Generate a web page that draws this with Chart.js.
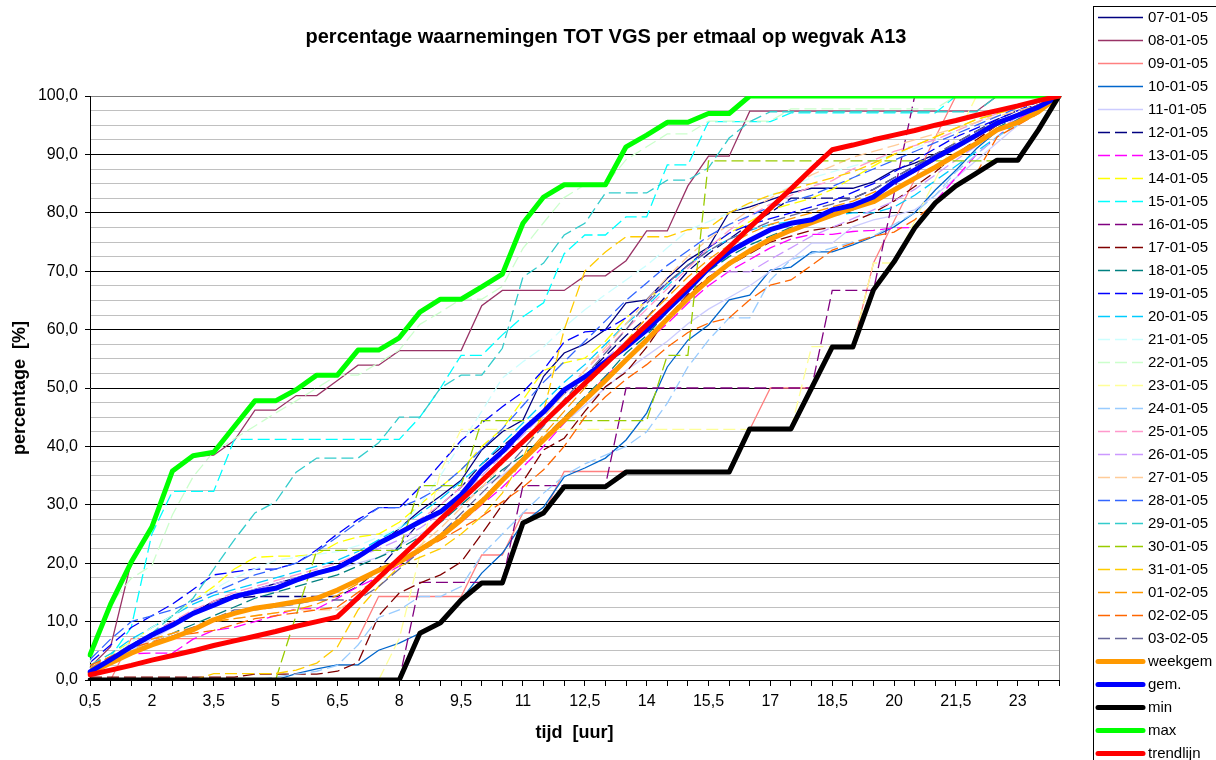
<!DOCTYPE html>
<html>
<head>
<meta charset="utf-8">
<script src="https://cdn.jsdelivr.net/npm/chart.js@4"></script>
<style>
  html, body { margin: 0; padding: 0; background: #fff; }
  #wrap { width: 1216px; height: 760px; position: relative; }
</style>
</head>
<body>
<div id="wrap"><canvas id="chart"></canvas></div>
<script>
const hours = ['0,5','1','1,5','2','2,5','3','3,5','4','4,5','5','5,5','6','6,5','7','7,5','8','8,5','9','9,5','10','10,5','11','11,5','12','12,5','13','13,5','14','14,5','15','15,5','16','16,5','17','17,5','18','18,5','19','19,5','20','20,5','21','21,5','22','22,5','23','23,5','24'];

// daily series (percentages)
const d0701 = [1.5,3.5,5.5,7.5,9.5,11.5,13.5,14.5,15.5,16.5,17.5,18.5,19.5,21.5,23,26,29,31.5,34.2,39.4,42.5,44.5,52,56,57.5,60,64.6,65.1,68.8,71.9,74.1,80.1,81,82.2,83.4,84.2,84.2,84.2,85.3,87.3,88.5,90,91.5,93,95,96.5,98,100];
const d0801 = [2.2,5.7,20.2,26,35.5,38.3,38.5,41,46.2,46.2,48.7,48.7,51.3,53.9,53.9,56.4,56.4,56.4,56.4,64.1,66.7,66.7,66.7,66.7,69.2,69.2,71.8,76.9,76.9,84.6,89.7,89.7,97.4,97.4,97.4,97.4,97.4,97.4,97.4,97.4,97.4,97.4,97.4,97.4,100,100,100,100];
const d0901 = [0,0,7.1,7.1,7.1,7.1,7.1,7.1,7.1,7.1,7.1,7.1,7.1,7.1,14.3,14.3,14.3,14.3,14.3,21.4,21.4,28.6,28.6,35.7,35.7,35.7,35.7,35.7,35.7,35.7,35.7,35.7,42.9,50,50,50,57.1,57.1,71.4,78.6,85.7,92.9,100,100,100,100,100,100];
const d1001 = [0,0,0,0,0,0,0,0,0,0,1.1,1.9,2.6,2.6,5.1,6.3,8,9.8,13.7,18.3,21.7,26.9,29.6,34.8,36.3,38,41.1,45.7,53.6,58.2,60.8,65.1,65.9,70.2,70.7,73.3,73.3,74.5,75.9,77.6,80,83.9,87.3,91,94,96,98,100];
const d1101 = [1,3,5,7,9,11,13,14.5,15.5,16,17,18,19,20,21,23,25,27,30,33,35,38,41,44,47,50,53,55.5,58,61,63.5,65.5,67.5,70,72,74.8,74.8,77.6,78.8,79.5,80.5,83,86,89,92,95,97.5,100];
const d1201 = [2,4,6,8,10,11.5,13,14,14.3,14.3,14.3,14.3,14.3,16,19,23,27,30,33,37,40,43,46,49,52,55.5,59,62,66,70,73,75.5,78,80,82.5,82.5,82.5,82.5,84,86,88,90,92,94,96,97.5,98.5,100];
const d1301 = [2,3.5,4.5,4.6,4.6,7,8.5,9,10,11,12.2,12.2,14,16,17.6,19.5,22,24.5,27,30,33,36.5,40,44,48,52,55,58,61,64.5,67.5,70,72,74,75.5,76.3,76.3,76.8,77,77.4,77.5,82,86,90,93,96,98,100];
const d1401 = [2.5,4.5,6.5,9,11,13.5,16,19,21,21.2,21.2,21.5,23.5,24.5,25,27,30,33,36,40,43,48,53,54.3,55.1,58,62,65,68,71,74,76.5,78.5,80.5,81.5,82.5,84,86,88,90,91.5,93,94.5,96,97,98,99,100];
const d1501 = [2,4,9,25,32.3,32.3,32.3,41.2,41.2,41.2,41.2,41.2,41.2,41.2,41.2,41.2,45,50,55.6,55.6,59.1,62.2,64.6,73,76.2,76.2,79.3,79.3,88.2,88.2,95.6,95.6,95.6,95.6,97.1,97.1,97.1,97.1,97.1,97.1,97.1,97.1,100,100,100,100,100,100];
const d1601 = [0,0,0,0,0,0,0,0,0,0,0,0,0,0,0,0,16.7,16.7,16.7,16.7,16.7,33.3,33.3,33.3,33.3,33.3,50,50,50,50,50,50,50,50,50,50,66.7,66.7,66.7,83.3,100,100,100,100,100,100,100,100];
const d1701 = [0.5,0.5,0.5,0.5,0.5,0.5,0.5,0.5,1,1,1,1,1.5,3,11,14.9,16.6,18,20.2,25,30,34,39.4,41.4,46,50.2,52.7,57,62,66,69,71,73,75,76,77,77.5,78.5,80,82,84.5,87,90,92.5,95,97,98.5,100];
const d1801 = [2,3.5,5,6.5,8,9.5,11,12.5,14,15,16,17,18,19.5,21,22.5,24.5,27,30,33,36,38.5,41.5,45,48.5,52,56,59,63,67,70,72.5,74.5,76,77.5,78.5,79.5,80.5,82,84,86,88,90,92,94.5,96.5,98.5,100];
const d1901 = [3,6,9,11,13,15.5,18,18.5,19,19,20,22.3,25,27.5,29.5,29.5,33,37,41,44,46.8,49.3,53.1,57.9,59.6,59.9,62,65,68,71,74,76.5,78,79,80,81,82,83.5,85,87,89,91,93,94.5,96,97.5,99,100];
const d2001 = [2.5,4.5,7,9,11,13,14.5,15.5,16.5,17.5,18.5,19.5,20.5,22,24,26,28.5,31,34,37,40.5,44,47.5,51,54,57.5,61,64,67.5,71,73.5,75.5,77,78,78.5,79,79.5,80,80,81,83,85.5,88,90.5,93,95.5,98,100];
const d2101 = [2,4,6.5,9,11,13.5,15.5,17.5,19,20.5,21,21.5,22,23,24.5,26,30,35,40.5,46,51.7,54.5,57,60.4,63.4,66,68.5,71,74,77,78.5,80,81.5,83,84.5,86,87,88,89,90,91,92.5,94,95.5,97,98,99,100];
const d2201 = [3,13,17.4,19.6,28.3,34.8,39.1,41.3,43.5,45.7,47.8,50,52.2,52.2,54.3,56.5,60.9,63,65.2,65.2,67.4,73.9,78.3,82.6,84.8,84.8,89.1,91.3,93.5,93.5,95.7,95.7,95.7,95.7,97.8,97.8,97.8,97.8,97.8,97.8,97.8,97.8,100,100,100,100,100,100];
const d2301 = [0,0,0,0,0,0,0,0,0,0,0,0,0,0,0,7.1,21.4,35.7,42.9,42.9,42.9,42.9,42.9,42.9,42.9,42.9,42.9,42.9,42.9,42.9,42.9,42.9,42.9,42.9,42.9,57.1,57.1,57.1,71.4,71.4,78.6,85.7,92.9,100,100,100,100,100];
const d2401 = [0,0,0,0,0,0,0,0,0,0.5,1,1.5,2.5,6,10.7,12,14.3,14.3,16,21.4,25,28.6,32,35,37,38.5,40,42.5,47.4,53.6,58.2,62,62,68.5,72,73,74,75,76,78,80,83,87,90,93,95,97.5,100];
const d2501 = [2,4,6,8,10,12,13.5,15,16,17,18,19,20,21.5,23,25,27.5,30,33,36,39,42.5,46,49.5,53,56.5,60,63.5,67,70.5,74,77,79.5,81.5,83,84.5,85.5,87.5,89,90.5,91.5,92.5,94,95.5,97,98,99,100];
const d2601 = [1.5,3.5,5.5,7.5,9.5,11.5,13,14.5,15.5,16.5,17.5,18.5,19.5,21,22.5,24,26,28.5,31.5,35,38.5,42,45.5,49,52,55,58,61,64,67,69.9,69.9,69.9,72,74,76,77.5,79,80.5,82,84,86.5,89,91.5,94,96.5,98.5,100];
const d2701 = [2,3.5,5,6.5,8,9,10,10.5,11,11.5,12,12,12,14,17,20,23,26,29.5,33,37,41,45,49,53,57,61,65,69,72.5,75.5,78,80.5,82.5,84.5,86.5,88,89.5,90.5,91.5,92.5,93.5,94.5,95.5,96.5,97.5,98.5,100];
const d2801 = [3.5,7,10,11,12,13.5,15,16.5,18,19,20,22,24.5,27,29.5,29.5,31,33,36,39.5,43,47,51,54.5,58,61.5,65,68,71,73.5,76,78,79.5,81,82,83,84.5,86,87.5,89,90.5,92,93.5,95,96.5,98,99,100];
const d2901 = [2,3.5,6,8,11,14,19,24,28.6,30.5,35.6,38,38,38,40.6,45,45,50,52.2,52.2,56.8,69,71.4,76.2,78.2,83.4,83.4,83.4,85.6,85.6,87.7,92.8,95.6,97.3,97.3,97.3,97.3,97.3,97.3,97.3,97.3,97.3,97.3,97.3,100,100,100,100];
const d3001 = [0,0,0,0,0,0,0,0,0,0,11.1,22.2,22.2,22.2,22.2,22.2,33.3,33.3,33.3,44.4,44.4,44.4,44.4,44.4,44.4,44.4,44.4,44.4,55.6,55.6,88.9,88.9,88.9,88.9,88.9,88.9,88.9,88.9,88.9,88.9,88.9,88.9,88.9,88.9,88.9,88.9,94.4,100];
const d3101 = [0,0,0,0,0,0,1.1,1.1,1.1,1.1,1.7,2.9,5.7,12,16,19.4,21,22.5,25,28,32,38,46,60,70,73.3,75.9,75.9,75.9,77.1,77.4,80,81.7,83,84,85,86,87,88.5,90,91.5,93,94.5,96,97,98,99,100];
const d0102 = [2,4,6,7,8,9,10,10.5,11,11.5,12,13,14.5,16.5,18.5,20.5,22.5,25,28,31,34.5,38,42,46,50,54,58,62,65.5,69,72,74.5,76.5,78,79,80,81,82,83.5,85,87,89,91,93,95,97,98.5,100];
const d0202 = [2.5,4,5.5,6.5,7.5,8,8.5,9.5,10.5,11,11.5,12,12.5,15,17.5,20,22,24,26,28,30.5,33,36,40,45,48.5,51.5,54,57,59.5,61.1,62,65.1,67.6,68.5,71,73.6,74.8,76,76.7,78.8,81.7,84.6,86.8,93,95,97,100];
const d0302 = [1.5,3,4.5,6,7.5,9,10.5,12,12,12.5,13,13.7,13.7,13.7,16,19,22,25,28.5,32,35.5,39.5,43.5,48,52,56,60,64.5,68,71,73.5,75.5,77,78.5,79.5,80.5,81.5,82.5,84,86,88,90,92,94,95.5,97,98.5,100];

// summary series
const weekgem = [1.2,2.9,4.6,6,7.2,8.6,10.3,11.4,12.3,12.8,13.4,14,15.4,17.1,18.8,20.2,22.3,24.5,27.4,30.5,34.2,37.7,41.1,44.5,47.9,51.3,54.8,58.2,61.8,65.3,68.5,71.3,73.5,75.5,77,78.3,79.6,80.8,81.9,83.9,85.9,87.8,89.9,91.9,94.2,95.5,97.3,100];
const gem = [1.4,3.5,5.7,7.7,9.4,11.4,12.8,14.3,15.1,15.7,17.1,18.3,19.2,21.1,23.4,25.2,27.1,28.8,31.7,36,39.1,42.8,45.9,49.7,51.9,54.5,57,59.9,63.4,66.8,70.5,73.3,75.3,77.1,78.2,78.8,80.5,81.3,82.7,85.3,87.3,89.4,91.3,93.3,95.4,96.7,98.1,100];
const minVals = [0,0,0,0,0,0,0,0,0,0,0,0,0,0,0,0,8,9.8,13.7,16.6,16.6,26.9,28.6,33.1,33.1,33.1,35.6,35.6,35.6,35.6,35.6,35.6,43,43,43,50,57,57,66.8,71.6,77.4,81.7,84.6,86.8,89,89,94.2,100];
const maxVals = [4.3,13,20.2,26.2,35.8,38.4,39,43.4,47.8,47.8,49.7,52.2,52.2,56.5,56.5,58.6,63,65.2,65.2,67.3,69.5,78.2,82.7,84.8,84.8,84.8,91.3,93.3,95.5,95.5,97,97,100,100,100,100,100,100,100,100,100,100,100,100,100,100,100,100];
const trendlijn = [0.9,1.7,2.5,3.4,4.2,5,5.9,6.7,7.5,8.3,9.2,10,10.8,14.1,17.5,20.8,24.1,27.5,30.8,34.1,37.5,40.8,44.1,47.5,50.8,54.1,57.5,60.8,64.1,67.5,70.8,74.1,77.5,80.8,84.1,87.5,90.8,91.6,92.5,93.3,94.1,95,95.8,96.7,97.5,98.3,99.2,100];

const dailyNames = ['07-01-05','08-01-05','09-01-05','10-01-05','11-01-05','12-01-05','13-01-05','14-01-05','15-01-05','16-01-05','17-01-05','18-01-05','19-01-05','20-01-05','21-01-05','22-01-05','23-01-05','24-01-05','25-01-05','26-01-05','27-01-05','28-01-05','29-01-05','30-01-05','31-01-05','01-02-05','02-02-05','03-02-05'];
const dailyData = [d0701,d0801,d0901,d1001,d1101,d1201,d1301,d1401,d1501,d1601,d1701,d1801,d1901,d2001,d2101,d2201,d2301,d2401,d2501,d2601,d2701,d2801,d2901,d3001,d3101,d0102,d0202,d0302];
const dailyColors = ['#000080','#993366','#ff8080','#0066cc','#ccccff','#000080','#ff00ff','#ffff00','#00ffff','#800080','#800000','#008080','#0000ff','#00ccff','#ccffff','#ccffcc','#ffff99','#99ccff','#ff99cc','#cc99ff','#ffcc99','#3366ff','#33cccc','#99cc00','#ffcc00','#ff9900','#ff6600','#666699'];

const summaryNames = ['weekgem','gem.','min','max','trendlijn'];
const summaryData = [weekgem, gem, minVals, maxVals, trendlijn];
const summaryColors = ['#ff9900','#0000ff','#000000','#00ff00','#ff0000'];

const titleText = 'percentage waarnemingen TOT VGS per etmaal op wegvak A13';
const FONT = '"Liberation Sans", Arial, sans-serif';

const datasets = [];
dailyNames.forEach(function(name, i) {
    datasets.push({
        label: name,
        data: dailyData[i],
        borderColor: dailyColors[i],
        borderWidth: 1.3,
        borderDash: i < 5 ? [] : [12, 5],
        pointRadius: 0,
        tension: 0,
        fill: false
    });
});
summaryNames.forEach(function(name, i) {
    datasets.push({
        label: name,
        data: summaryData[i],
        borderColor: summaryColors[i],
        borderWidth: 5,
        borderDash: [],
        borderCapStyle: 'round',
        borderJoinStyle: 'round',
        pointRadius: 0,
        tension: 0,
        fill: false
    });
});
// later series on top, as in the original
datasets.forEach(function(ds, i) { ds.order = -i; });

const decor = {
    id: 'decor',
    beforeDatasetsDraw(chart) {
        const { ctx, chartArea: a } = chart;
        ctx.save();
        ctx.strokeStyle = '#808080';
        ctx.lineWidth = 1;
        ctx.beginPath();
        ctx.moveTo(a.right + 0.5, a.top);
        ctx.lineTo(a.right + 0.5, a.bottom);
        ctx.stroke();
        ctx.restore();
    },
    afterDraw(chart) {
        const ctx = chart.ctx;
        ctx.save();
        ctx.fillStyle = '#000';
        ctx.font = 'bold 20px ' + FONT;
        ctx.textAlign = 'center';
        ctx.textBaseline = 'middle';
        ctx.fillText(titleText, 606, 37);

        // legend box
        ctx.strokeStyle = '#000';
        ctx.lineWidth = 1;
        ctx.setLineDash([]);
        ctx.strokeRect(1093.5, 6.5, 130, 770);

        ctx.font = '15px ' + FONT;
        ctx.textAlign = 'left';
        chart.data.datasets.forEach(function(ds, i) {
            const y = 17 + 23 * i;
            ctx.save();
            ctx.strokeStyle = ds.borderColor;
            ctx.lineWidth = ds.borderWidth;
            ctx.lineCap = ds.borderWidth > 2 ? 'round' : 'butt';
            ctx.setLineDash(ds.borderDash || []);
            ctx.beginPath();
            ctx.moveTo(1098, y + 0.5);
            ctx.lineTo(1143, y + 0.5);
            ctx.stroke();
            ctx.restore();
            ctx.fillStyle = '#000';
            ctx.fillText(ds.label, 1148, y + 1);
        });
        ctx.restore();
    }
};

const ctx = document.getElementById('chart').getContext('2d');
new Chart(ctx, {
    type: 'line',
    data: { labels: hours, datasets: datasets },
    plugins: [decor],
    options: {
        responsive: true,
        maintainAspectRatio: false,
        animation: false,
        layout: { padding: { left: 0, top: 96, right: 157, bottom: 0 } },
        plugins: {
            legend: { display: false },
            tooltip: { enabled: false }
        },
        scales: {
            x: {
                type: 'category',
                offset: false,
                afterFit: function(scale) { scale.height = 80; },
                grid: { drawOnChartArea: false, offset: false, tickLength: 6, color: '#000' },
                border: { color: '#000', width: 1 },
                ticks: {
                    autoSkip: false,
                    maxRotation: 0,
                    padding: 6,
                    color: '#000',
                    font: { family: FONT, size: 16 },
                    callback: function(v, i) { return i % 3 === 0 ? hours[i] : ''; }
                },
                title: {
                    display: true,
                    text: 'tijd  [uur]',
                    color: '#000',
                    font: { family: FONT, size: 18, weight: 'bold' },
                    padding: { top: 0, bottom: 16 }
                }
            },
            y: {
                min: 0,
                max: 100,
                afterFit: function(scale) { scale.width = 90; },
                grid: {
                    tickLength: 5,
                    color: function(c) {
                        if (c.tick.value === 100) return '#808080';
                        return c.tick.value % 10 === 0 ? '#000' : '#c0c0c0';
                    },
                    tickColor: function(c) { return c.tick.value % 10 === 0 ? '#000' : 'rgba(0,0,0,0)'; }
                },
                border: { color: '#000', width: 1 },
                ticks: {
                    stepSize: 2.5,
                    autoSkip: false,
                    padding: 7,
                    color: '#000',
                    font: { family: FONT, size: 16 },
                    callback: function(v) { return v % 10 === 0 ? v.toFixed(1).replace('.', ',') : ''; }
                },
                title: {
                    display: true,
                    text: 'percentage  [%]',
                    color: '#000',
                    font: { family: FONT, size: 18, weight: 'bold' },
                    padding: { top: 9, bottom: 0 }
                }
            }
        }
    }
});
</script>
</body>
</html>
